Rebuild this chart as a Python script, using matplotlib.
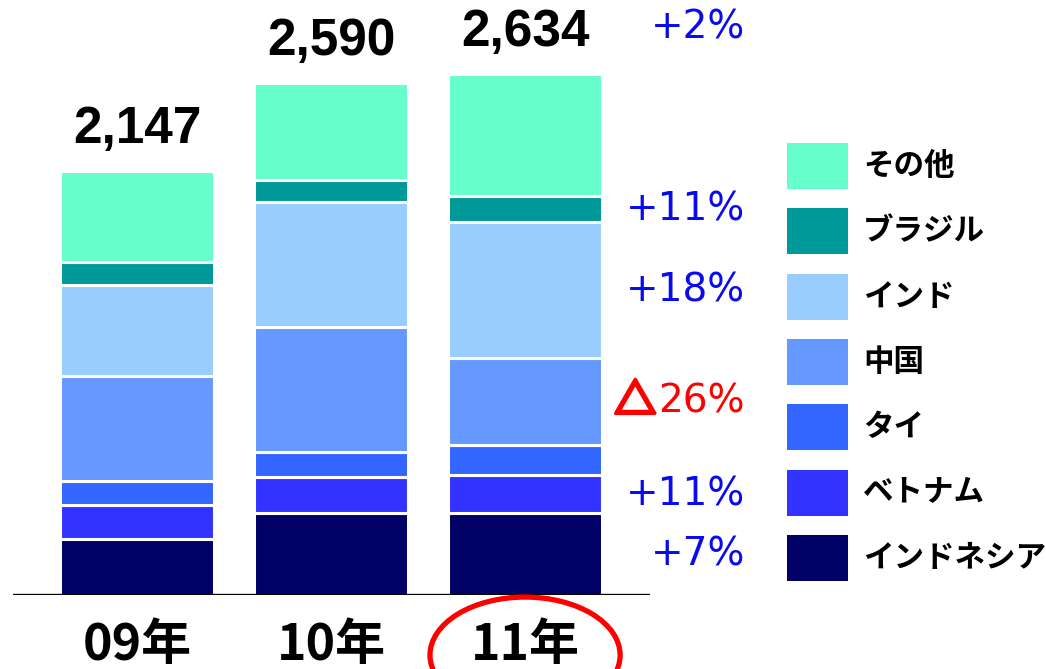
import matplotlib
matplotlib.use('Agg')
import matplotlib.pyplot as plt
import matplotlib.patheffects as pe
from matplotlib.patches import Rectangle, Ellipse

plt.rcParams['font.family'] = ['Noto Sans CJK JP', 'DejaVu Sans']

# data (bottom to top of each stack)
years = ['09年', '10年', '11年']
totals = [2147, 2590, 2634]
countries = ['インドネシア', 'ベトナム', 'タイ', '中国', 'インド', 'ブラジル', 'その他']
indonesia = [283, 413, 413]
vietnam = [171, 184, 196]
thailand = [124, 127, 148]
china = [528, 631, 441]
india = [461, 633, 690]
brazil = [117, 114, 129]
others = [463, 488, 617]
growth_labels = ['+7%', '+11%', '', '△26%', '+18%', '+11%', '']
total_growth = '+2%'

series = [indonesia, vietnam, thailand, china, india, brazil, others]
colors = ['#000066', '#3333FF', '#3366FF', '#6699FF', '#99CCFF', '#009999', '#66FFCC']

PT = 0.72  # points per pixel at dpi 100
W, H = 1046, 669

fig = plt.figure(figsize=(10.46, 6.69), dpi=100)
ax = fig.add_axes([13 / W, 74 / H, 637 / W, 595 / H])
ax.set_xlim(-0.639, 2.644)
ax.set_ylim(0, 3011)
ax.axis('off')

x = range(len(years))
bottom = [0, 0, 0]
for vals, col in zip(series, colors):
    ax.bar(x, vals, width=0.79, bottom=bottom, color=col,
           edgecolor='white', linewidth=2.2, zorder=2)
    bottom = [b + v for b, v in zip(bottom, vals)]

ax.axhline(0, color='black', lw=2.4, zorder=3)

# totals above the bars
for i, t in enumerate(totals):
    ax.annotate(f'{t:,}', xy=(i, t), xytext=(0, 28 * PT), textcoords='offset points',
                ha='center', va='baseline', fontsize=37, fontweight='bold',
                family='Liberation Sans', color='black')

# growth labels next to the last bar
last = len(years) - 1
blue = '#0A0AF0'
cum = 0
for vals, lab in zip(series, growth_labels):
    mid = cum + vals[last] / 2
    cum += vals[last]
    if not lab:
        continue
    if lab.startswith('△'):
        ax.annotate(lab[1:], xy=(last, mid), xytext=(220 * PT, 0), textcoords='offset points',
                    ha='right', va='center', fontsize=28, family='DejaVu Sans',
                    color='red', annotation_clip=False)
        ax.annotate('△', xy=(last, mid), xytext=(131 * PT, 0), textcoords='offset points',
                    ha='right', va='center', fontsize=30, fontweight='bold',
                    family='Noto Sans CJK JP', color='red', annotation_clip=False,
                    path_effects=[pe.withStroke(linewidth=2.5, foreground='red')])
    else:
        ax.annotate(lab, xy=(last, mid), xytext=(220 * PT, 0), textcoords='offset points',
                    ha='right', va='center', fontsize=28, family='DejaVu Sans',
                    color=blue, annotation_clip=False)
ax.annotate(total_growth, xy=(last, totals[last]), xytext=(220 * PT, 47 * PT),
            textcoords='offset points', ha='right', va='center', fontsize=28,
            family='DejaVu Sans', color=blue, annotation_clip=False)

# year labels under the axis
for i, y in enumerate(years):
    ax.annotate(y, xy=(i, 0), xytext=(0, -50 * PT), textcoords='offset points',
                ha='center', va='center', fontsize=36, fontweight='bold',
                color='black', annotation_clip=False)

# red ellipse around the latest year
ax.add_patch(Ellipse((last, -304), 0.98, 587, fill=False, edgecolor='red',
                     lw=3.8, clip_on=False, zorder=4))

# legend, top entry first
for k, (name, col) in enumerate(zip(countries[::-1], colors[::-1])):
    yc = 166 + 65.3 * k
    fig.patches.append(Rectangle((787 / W, 1 - (yc + 23) / H), 61 / W, 46 / H,
                                 transform=fig.transFigure, facecolor=col,
                                 edgecolor='none'))
    fig.text(863 / W, 1 - yc / H, name, ha='left', va='center', fontsize=22,
             fontweight='bold', color='black')

fig.savefig('out.png', dpi=100)
